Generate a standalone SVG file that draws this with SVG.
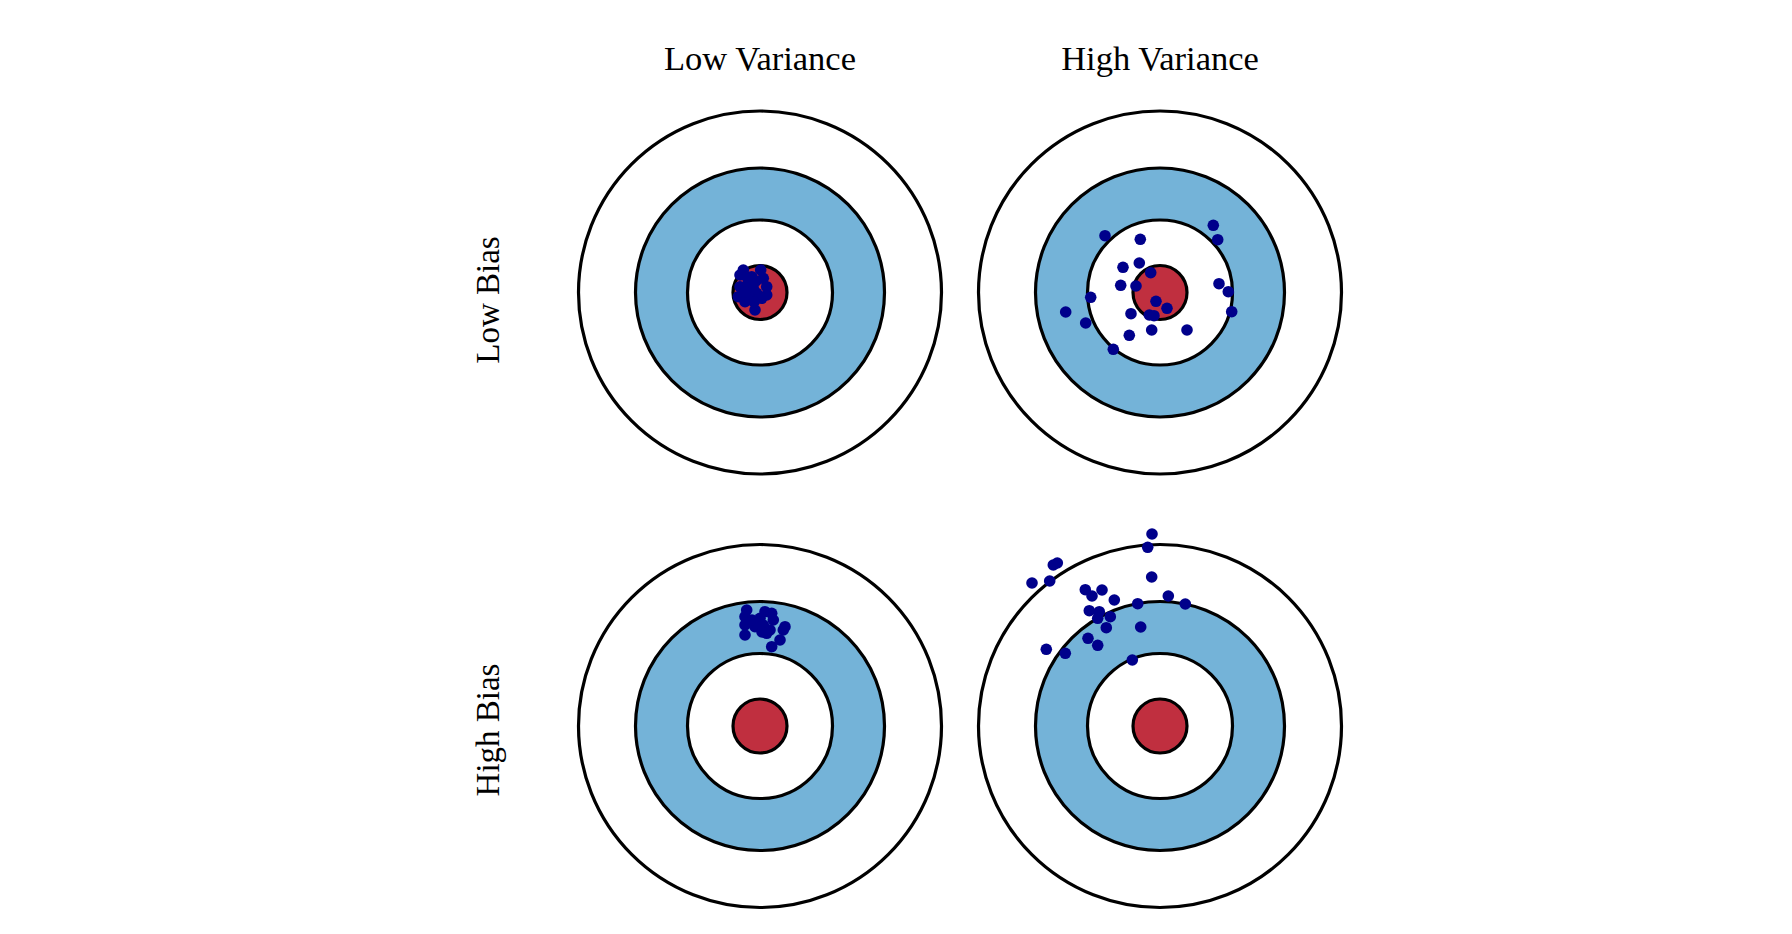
<svg xmlns="http://www.w3.org/2000/svg" width="1792" height="934" viewBox="0 0 1792 934">
<style>
.ring{stroke:#000;stroke-width:3.2;}
.w{fill:#fff;}
.b{fill:#74b3d8;}
.r{fill:#c02f3f;}
.lbl{font-family:"Liberation Serif","Times New Roman",serif;font-size:33px;fill:#000;text-anchor:middle;}
.ttl{font-size:34.5px;}
.d circle{fill:#00008b;}
</style>
<defs>
<g id="target">
<circle class="ring w" cx="0" cy="0" r="181.5"/>
<circle class="ring b" cx="0" cy="0" r="124.5"/>
<circle class="ring w" cx="0" cy="0" r="72.5"/>
<circle class="ring r" cx="0" cy="0" r="27"/>
</g>
</defs>
<rect width="1792" height="934" fill="#fff"/>
<g id="labels">
<text class="lbl ttl" x="760" y="70">Low Variance</text>
<text class="lbl ttl" x="1160" y="70">High Variance</text>
<text class="lbl" transform="translate(499,300) rotate(-90)">Low Bias</text>
<text class="lbl" transform="translate(499,730) rotate(-90)">High Bias</text>
</g>
<g id="target-low-bias-low-variance">
<use href="#target" x="760" y="292.5"/>
<g class="d">
<circle cx="743.3" cy="270" r="5.8"/><circle cx="760.7" cy="270" r="5.8"/><circle cx="740" cy="275" r="5.8"/>
<circle cx="751.7" cy="276.7" r="5.8"/><circle cx="763.3" cy="278.3" r="5.8"/><circle cx="740" cy="286.7" r="5.8"/>
<circle cx="748.3" cy="283.3" r="5.8"/><circle cx="753.3" cy="288.3" r="5.8"/><circle cx="766.7" cy="286.7" r="5.8"/>
<circle cx="756.7" cy="293.3" r="5.8"/><circle cx="766.7" cy="295" r="5.8"/><circle cx="738.3" cy="296.7" r="5.8"/>
<circle cx="745" cy="301.7" r="5.8"/><circle cx="750" cy="298.3" r="5.8"/><circle cx="755" cy="310" r="5.8"/>
<circle cx="761.7" cy="298.3" r="5.8"/><circle cx="745" cy="292" r="5.8"/><circle cx="756" cy="281" r="5.8"/>
<circle cx="747" cy="277" r="5.8"/><circle cx="754" cy="302" r="5.8"/>
</g>
</g>
<g id="target-low-bias-high-variance">
<use href="#target" x="1160" y="292.5"/>
<g class="d">
<circle cx="1213.3" cy="225.3" r="5.8"/><circle cx="1217.7" cy="239.7" r="5.8"/><circle cx="1105" cy="235.7" r="5.8"/>
<circle cx="1140.3" cy="239.3" r="5.8"/><circle cx="1123" cy="267.3" r="5.8"/><circle cx="1139.3" cy="263" r="5.8"/>
<circle cx="1150.7" cy="272.7" r="5.8"/><circle cx="1120.7" cy="285.3" r="5.8"/><circle cx="1136" cy="286" r="5.8"/>
<circle cx="1090.7" cy="297.3" r="5.8"/><circle cx="1219" cy="283.7" r="5.8"/><circle cx="1228.3" cy="291.7" r="5.8"/>
<circle cx="1231.7" cy="311.7" r="5.8"/><circle cx="1065.7" cy="312" r="5.8"/><circle cx="1085.7" cy="323" r="5.8"/>
<circle cx="1131" cy="313.7" r="5.8"/><circle cx="1156" cy="301.3" r="5.8"/><circle cx="1167" cy="308.3" r="5.8"/>
<circle cx="1149.3" cy="315" r="5.8"/><circle cx="1154" cy="315.7" r="5.8"/><circle cx="1151.7" cy="330" r="5.8"/>
<circle cx="1187" cy="330" r="5.8"/><circle cx="1129.3" cy="335.3" r="5.8"/><circle cx="1113.3" cy="349.3" r="5.8"/>
</g>
</g>
<g id="target-high-bias-low-variance">
<use href="#target" x="760" y="726"/>
<g class="d">
<circle cx="746.7" cy="610" r="5.8"/><circle cx="765" cy="611.7" r="5.8"/><circle cx="771.7" cy="613.3" r="5.8"/>
<circle cx="745" cy="616.7" r="5.8"/><circle cx="760" cy="618.3" r="5.8"/><circle cx="773.3" cy="620" r="5.8"/>
<circle cx="745" cy="625" r="5.8"/><circle cx="763.3" cy="625" r="5.8"/><circle cx="755" cy="626.7" r="5.8"/>
<circle cx="785" cy="626.7" r="5.8"/><circle cx="770" cy="630" r="5.8"/><circle cx="783.3" cy="630" r="5.8"/>
<circle cx="745" cy="635" r="5.8"/><circle cx="766.7" cy="633.3" r="5.8"/><circle cx="780" cy="640" r="5.8"/>
<circle cx="771.7" cy="646.7" r="5.8"/><circle cx="762" cy="632" r="5.8"/><circle cx="752" cy="620" r="5.8"/>
</g>
</g>
<g id="target-high-bias-high-variance">
<use href="#target" x="1160" y="726"/>
<g class="d">
<circle cx="1152" cy="534" r="5.8"/><circle cx="1147.7" cy="547.3" r="5.8"/><circle cx="1057.3" cy="563" r="5.8"/>
<circle cx="1053.3" cy="565" r="5.8"/><circle cx="1032" cy="583" r="5.8"/><circle cx="1049.7" cy="581" r="5.8"/>
<circle cx="1151.7" cy="577" r="5.8"/><circle cx="1085.3" cy="589.7" r="5.8"/><circle cx="1102" cy="590" r="5.8"/>
<circle cx="1092" cy="596" r="5.8"/><circle cx="1114.3" cy="600" r="5.8"/><circle cx="1168.3" cy="596" r="5.8"/>
<circle cx="1137.7" cy="603.7" r="5.8"/><circle cx="1185.3" cy="604" r="5.8"/><circle cx="1089.3" cy="610.7" r="5.8"/>
<circle cx="1099.3" cy="611.7" r="5.8"/><circle cx="1097.7" cy="618.3" r="5.8"/><circle cx="1110.3" cy="616.7" r="5.8"/>
<circle cx="1106.3" cy="627.7" r="5.8"/><circle cx="1140.7" cy="627" r="5.8"/><circle cx="1088" cy="638.3" r="5.8"/>
<circle cx="1097.7" cy="645.3" r="5.8"/><circle cx="1046.3" cy="649.3" r="5.8"/><circle cx="1065.3" cy="653.3" r="5.8"/>
<circle cx="1132.3" cy="660" r="5.8"/>
</g>
</g>
</svg>
